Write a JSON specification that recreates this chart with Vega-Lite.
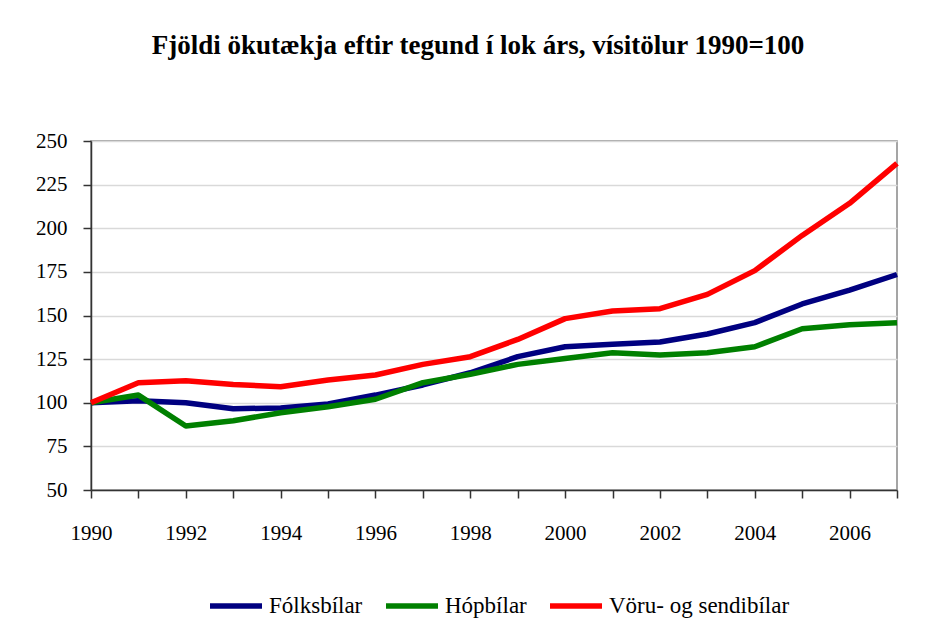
{
  "$schema": "https://vega.github.io/schema/vega-lite/v6.json",
  "width": 806,
  "height": 349,
  "autosize": {"type": "none"},
  "padding": {"left": 91, "top": 141, "right": 37, "bottom": 141},
  "background": "white",
  "title": {
    "text": "Fjöldi ökutækja eftir tegund í lok árs, vísitölur 1990=100",
    "font": "Liberation Serif",
    "fontSize": 27,
    "fontWeight": "bold",
    "color": "black",
    "anchor": "middle",
    "dx": -16,
    "offset": 70
  },
  "config": {
    "view": {"stroke": "#888888", "strokeWidth": 1.5},
    "style": {
      "guide-label": {"font": "Liberation Serif"}
    },
    "axis": {
      "labelFont": "Liberation Serif",
      "labelFontSize": 21,
      "labelColor": "black",
      "domainColor": "#333333",
      "domainWidth": 1.5,
      "tickColor": "#333333",
      "tickWidth": 1.5,
      "tickSize": 8,
      "title": null
    }
  },
  "data": {
    "values": [
      {"year": 1990, "type": "Fólksbílar", "value": 100},
      {"year": 1991, "type": "Fólksbílar", "value": 101.2},
      {"year": 1992, "type": "Fólksbílar", "value": 100.0},
      {"year": 1993, "type": "Fólksbílar", "value": 96.6},
      {"year": 1994, "type": "Fólksbílar", "value": 97.0},
      {"year": 1995, "type": "Fólksbílar", "value": 99.3},
      {"year": 1996, "type": "Fólksbílar", "value": 104.4},
      {"year": 1997, "type": "Fólksbílar", "value": 110.2},
      {"year": 1998, "type": "Fólksbílar", "value": 117.2},
      {"year": 1999, "type": "Fólksbílar", "value": 126.4},
      {"year": 2000, "type": "Fólksbílar", "value": 132.1},
      {"year": 2001, "type": "Fólksbílar", "value": 133.5},
      {"year": 2002, "type": "Fólksbílar", "value": 134.8},
      {"year": 2003, "type": "Fólksbílar", "value": 139.4},
      {"year": 2004, "type": "Fólksbílar", "value": 145.9},
      {"year": 2005, "type": "Fólksbílar", "value": 156.6},
      {"year": 2006, "type": "Fólksbílar", "value": 164.6},
      {"year": 2007, "type": "Fólksbílar", "value": 173.5},
      {"year": 1990, "type": "Hópbílar", "value": 100},
      {"year": 1991, "type": "Hópbílar", "value": 104.4},
      {"year": 1992, "type": "Hópbílar", "value": 86.7},
      {"year": 1993, "type": "Hópbílar", "value": 89.7},
      {"year": 1994, "type": "Hópbílar", "value": 94.3},
      {"year": 1995, "type": "Hópbílar", "value": 97.7},
      {"year": 1996, "type": "Hópbílar", "value": 102.0},
      {"year": 1997, "type": "Hópbílar", "value": 111.5},
      {"year": 1998, "type": "Hópbílar", "value": 116.3},
      {"year": 1999, "type": "Hópbílar", "value": 122.0},
      {"year": 2000, "type": "Hópbílar", "value": 125.3},
      {"year": 2001, "type": "Hópbílar", "value": 128.7},
      {"year": 2002, "type": "Hópbílar", "value": 127.4},
      {"year": 2003, "type": "Hópbílar", "value": 128.7},
      {"year": 2004, "type": "Hópbílar", "value": 132.1},
      {"year": 2005, "type": "Hópbílar", "value": 142.4},
      {"year": 2006, "type": "Hópbílar", "value": 144.7},
      {"year": 2007, "type": "Hópbílar", "value": 145.9},
      {"year": 1990, "type": "Vöru- og sendibílar", "value": 100},
      {"year": 1991, "type": "Vöru- og sendibílar", "value": 111.5},
      {"year": 1992, "type": "Vöru- og sendibílar", "value": 112.6},
      {"year": 1993, "type": "Vöru- og sendibílar", "value": 110.4},
      {"year": 1994, "type": "Vöru- og sendibílar", "value": 109.2},
      {"year": 1995, "type": "Vöru- og sendibílar", "value": 113.0},
      {"year": 1996, "type": "Vöru- og sendibílar", "value": 115.9},
      {"year": 1997, "type": "Vöru- og sendibílar", "value": 122.0},
      {"year": 1998, "type": "Vöru- og sendibílar", "value": 126.4},
      {"year": 1999, "type": "Vöru- og sendibílar", "value": 136.3},
      {"year": 2000, "type": "Vöru- og sendibílar", "value": 148.2},
      {"year": 2001, "type": "Vöru- og sendibílar", "value": 152.6},
      {"year": 2002, "type": "Vöru- og sendibílar", "value": 153.9},
      {"year": 2003, "type": "Vöru- og sendibílar", "value": 162.1},
      {"year": 2004, "type": "Vöru- og sendibílar", "value": 175.7},
      {"year": 2005, "type": "Vöru- og sendibílar", "value": 195.9},
      {"year": 2006, "type": "Vöru- og sendibílar", "value": 214.3},
      {"year": 2007, "type": "Vöru- og sendibílar", "value": 237.2}
    ]
  },
  "mark": {"type": "line", "strokeWidth": 5.5, "strokeJoin": "round"},
  "encoding": {
    "x": {
      "field": "year",
      "type": "quantitative",
      "scale": {"domain": [1990, 2007], "nice": false, "zero": false},
      "axis": {
        "values": [1990, 1991, 1992, 1993, 1994, 1995, 1996, 1997, 1998, 1999, 2000, 2001, 2002, 2003, 2004, 2005, 2006, 2007],
        "labelExpr": "datum.value % 2 == 0 ? '' + datum.value : ''",
        "labelFont": "Liberation Serif",
        "grid": false,
        "labelPadding": 24,
        "labelFlush": false,
        "labelOverlap": false
      }
    },
    "y": {
      "field": "value",
      "type": "quantitative",
      "scale": {"domain": [50, 250], "nice": false, "zero": false},
      "axis": {
        "values": [50, 75, 100, 125, 150, 175, 200, 225, 250],
        "labelFont": "Liberation Serif",
        "grid": true,
        "gridColor": "#d9d9d9",
        "gridWidth": 1.5,
        "labelPadding": 16
      }
    },
    "color": {
      "field": "type",
      "type": "nominal",
      "scale": {
        "domain": ["Fólksbílar", "Hópbílar", "Vöru- og sendibílar"],
        "range": ["#000080", "#008000", "#FF0000"]
      },
      "legend": {
        "title": null,
        "orient": "none",
        "direction": "horizontal",
        "legendX": 116,
        "legendY": 436,
        "symbolType": "stroke",
        "symbolSize": 2704,
        "symbolStrokeWidth": 5.5,
        "labelFont": "Liberation Serif",
        "labelFontSize": 23,
        "labelColor": "black",
        "labelOffset": 4,
        "columnPadding": 12,
        "labelLimit": 400
      }
    }
  }
}
